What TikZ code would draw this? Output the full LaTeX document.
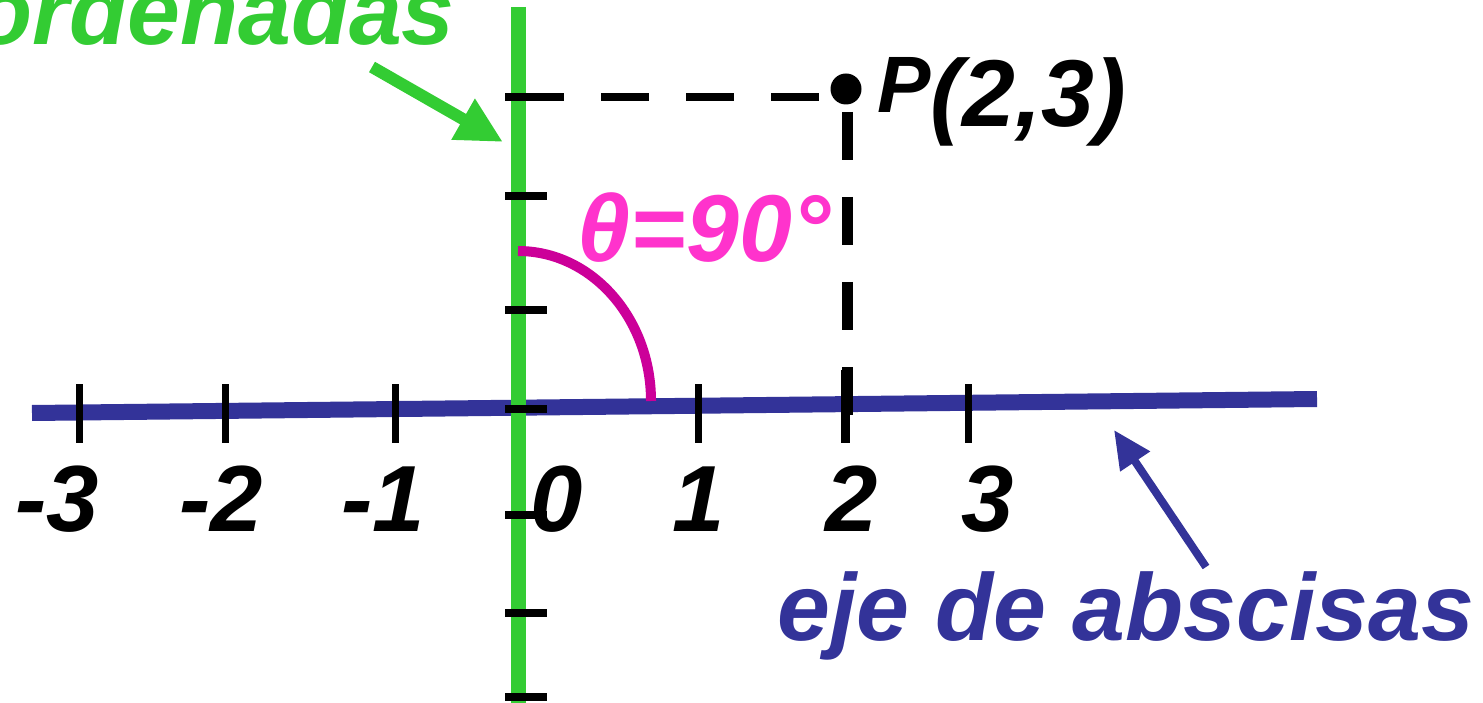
\documentclass[tikz,border=0pt]{standalone}
\usepackage{fontspec}
\setmainfont{Liberation Sans}
\usetikzlibrary{arrows.meta}
\definecolor{ygreen}{HTML}{33CC33}
\definecolor{xblue}{HTML}{333399}
\definecolor{angpink}{HTML}{FF33CC}
\definecolor{arcmag}{HTML}{CC0099}
\begin{document}
\begin{tikzpicture}[x=1pt,y=-1pt,
  big/.style={inner sep=0pt, font=\fontsize{95}{95}\selectfont\bfseries\itshape},
  numlbl/.style={big, anchor=base, font=\fontsize{94}{94}\selectfont\bfseries\itshape},
  ytick/.style={line width=8pt, black},
  xtick/.style={line width=7pt, black},
  dashline/.style={line width=8pt, black, dash pattern=on 48pt off 37pt}]
\useasboundingbox (0,0) rectangle (1483,703);
\clip (0,0) rectangle (1483,703);

% axes
\coordinate (xl) at (32,413);
\coordinate (xr) at (1317,399);
\draw[xblue, line width=16pt] (xl) -- (xr);
\coordinate (yt) at (518,7);
\coordinate (yb) at (518,710);
\draw[ygreen, line width=15pt] (yt) -- (yb);

% y ticks
\foreach \yy in {97,196,310,409,515,613,697}
  \draw[ytick] (505,\yy) -- (547,\yy);

% x ticks
\foreach \xx in {79,225,395,698,968}
  \draw[xtick] (\xx,384) -- (\xx,443);
\draw[xtick, line width=9pt] (845,370) -- (845,443);

% angle arc
\coordinate (arcS) at (518,251);
\draw[arcmag, line width=10pt] (arcS) arc[start angle=-90, end angle=0, x radius=133, y radius=150];

% point P and dashed projections
\node[circle, fill=black, minimum size=31pt, inner sep=0pt] (P) at (846,89) {};
\coordinate (hS) at (516,97);
\coordinate (hE) at (833,97);
\draw[dashline] (hS) -- (hE);
\coordinate (vS) at (847,112);
\coordinate (vE) at (847,415);
\draw[dashline, line width=11pt] (vS) -- (vE);
\node[big, anchor=base west] (Plbl) at (877,127)
  {{\fontsize{80}{80}\selectfont\raisebox{14pt}{P}}(2,3)};

% angle label
\node[big, anchor=base, text=angpink] (theta) at (704,262) {θ=90°};

% number labels
\node[numlbl] (m3) at (57,531) {-3};
\node[numlbl] (m2) at (221,531) {-2};
\node[numlbl] (m1) at (383,531) {-1};
\node[numlbl] (n0) at (557,531) {0};
\node[numlbl] (n1) at (699,531) {1};
\node[numlbl] (n2) at (852,531) {2};
\node[numlbl] (n3) at (988,531) {3};

% axis names and arrows
\node[big, anchor=base east, text=ygreen] (ord) at (455,45) {ordenadas};
\coordinate (gT) at (372,67);
\coordinate (gH) at (503,142);
\draw[ygreen, line width=12pt, -{Triangle[length=46pt,width=44pt]}] (gT) -- (gH);

\node[big, anchor=base west, text=xblue] (abs) at (777,640) {eje de abscisas};
\coordinate (bT) at (1206,567);
\coordinate (bH) at (1114,430);
\draw[xblue, line width=8pt, -{Triangle[length=38pt,width=34pt]}] (bT) -- (bH);
\end{tikzpicture}
\end{document}
